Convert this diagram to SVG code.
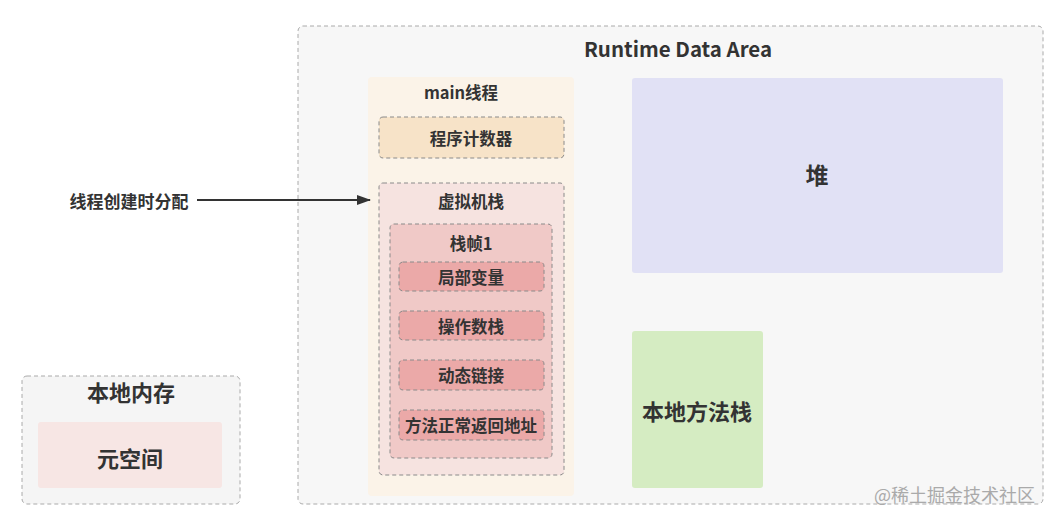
<svg xmlns="http://www.w3.org/2000/svg" width="1053" height="519" viewBox="0 0 1053 519">
<defs>
<marker id="arr" viewBox="0 0 14 10" refX="13" refY="5" markerWidth="14" markerHeight="10" markerUnits="userSpaceOnUse" orient="auto"><path d="M0,0 L14,5 L0,10 z" fill="#333"/></marker>
</defs>
<style>
text{font-family:"Noto Sans CJK SC","Liberation Sans",sans-serif;font-weight:bold;fill:#333;text-anchor:middle;dominant-baseline:central}
.dash{stroke:#8a8a8a;stroke-width:1;stroke-dasharray:4 3}
.dashl{stroke:#aaa;stroke-width:1;stroke-dasharray:4 3}
.item{fill:#eba9a8}
</style>
<rect width="1053" height="519" fill="#fff"/>
<g id="runtime">
<rect x="298" y="26" width="745" height="478" rx="5" fill="#f7f7f7" class="dashl"/>
<text x="678" y="48" font-size="20.5">Runtime Data Area</text>
</g>
<g id="main-thread">
<rect x="368" y="77" width="206" height="419" rx="4" fill="#fbf3e8"/>
<text x="461" y="92" font-size="16.5">main线程</text>
</g>
<g id="pc">
<rect x="379" y="117" width="185" height="41" rx="4" fill="#f7e3c8" class="dash"/>
<text x="471" y="138" font-size="16.5">程序计数器</text>
</g>
<g id="vmstack">
<rect x="379" y="183" width="185" height="292" rx="4" fill="#f6e3e0" class="dash"/>
<text x="471" y="201" font-size="16.5">虚拟机栈</text>
</g>
<g id="frame1">
<rect x="390" y="224" width="162" height="234" rx="4" fill="#f0c9c7" class="dash"/>
<text x="471" y="243" font-size="16.5">栈帧1</text>
</g>
<g id="local-vars">
<rect x="399" y="262" width="145" height="29" rx="4" class="item dash"/>
<text x="471" y="277" font-size="16.5">局部变量</text>
</g>
<g id="operand-stack">
<rect x="399" y="311" width="145" height="29" rx="4" class="item dash"/>
<text x="471" y="326" font-size="16.5">操作数栈</text>
</g>
<g id="dynamic-link">
<rect x="399" y="360" width="145" height="30" rx="4" class="item dash"/>
<text x="471" y="375" font-size="16.5">动态链接</text>
</g>
<g id="return-addr">
<rect x="399" y="410" width="145" height="30" rx="4" class="item dash"/>
<text x="471" y="425" font-size="16.5">方法正常返回地址</text>
</g>
<g id="heap">
<rect x="632" y="78" width="371" height="195" rx="3" fill="#e1e1f5"/>
<text x="817" y="174" font-size="23">堆</text>
</g>
<g id="native-stack">
<rect x="632" y="331" width="131" height="157" rx="3" fill="#d5ecc2"/>
<text x="697" y="410" font-size="22">本地方法栈</text>
</g>
<g id="native-mem">
<rect x="22" y="376" width="218" height="128" rx="5" fill="#f5f5f5" class="dashl"/>
<text x="131" y="391" font-size="22">本地内存</text>
</g>
<g id="metaspace">
<rect x="38" y="422" width="184" height="66" rx="3" fill="#f7e6e4"/>
<text x="130" y="457" font-size="22">元空间</text>
</g>
<g id="label">
<text x="129" y="200" font-size="17">线程创建时分配</text>
</g>
<g id="connectors">
<line x1="197" y1="200" x2="370" y2="200" stroke="#333" stroke-width="2" marker-end="url(#arr)"/>
</g>
<text x="1035" y="494" font-size="18" style="font-weight:normal;fill:#aaa;text-anchor:end">@稀土掘金技术社区</text>
</svg>
